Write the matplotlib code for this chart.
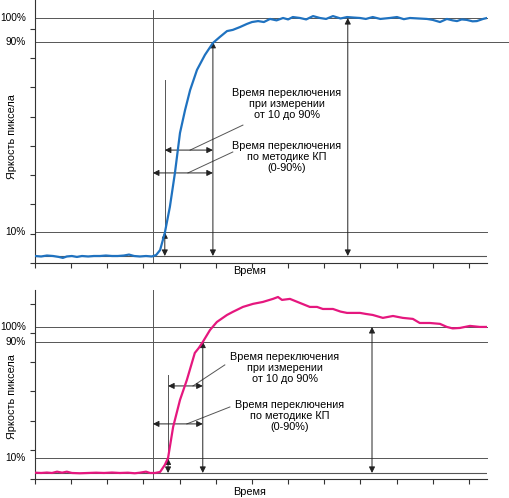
import matplotlib.pyplot as plt
import matplotlib.transforms as mtransforms
from matplotlib.ticker import MultipleLocator, NullFormatter

plt.rcParams['font.family'] = ['Liberation Sans', 'DejaVu Sans']

# time in tick units, brightness in percent (0% = black level, 100% = white level)
t_top = [0.00, 0.17, 0.33, 0.50, 0.66, 0.77, 0.88, 1.02, 1.16, 1.30, 1.47, 1.63, 1.80,
         1.96, 2.13, 2.29, 2.46, 2.60, 2.74, 2.90, 3.07, 3.23, 3.35, 3.46, 3.59, 3.73,
         3.87, 4.01, 4.15, 4.29, 4.48, 4.70, 4.92, 5.11, 5.31, 5.47, 5.67, 5.86, 6.00,
         6.17, 6.33, 6.50, 6.68, 6.86, 7.00, 7.13, 7.33, 7.50, 7.69, 7.88, 8.05, 8.24,
         8.45, 8.63, 8.80, 8.99, 9.15, 9.34, 9.55, 9.81, 10.01, 10.20, 10.37, 10.60,
         10.84, 11.00, 11.20, 11.39, 11.55, 11.67, 11.80, 11.94, 12.10, 12.22, 12.39, 12.50]
b_top = [0.0, -0.2, 0.2, 0.0, -0.4, -0.8, -0.2, 0.0, -0.4, 0.0, -0.2, 0.0, 0.0,
         0.2, 0.0, 0.0, 0.2, 0.6, 0.0, -0.2, 0.0, -0.2, 0.4, 2.5, 9.7, 20.6,
         34.9, 51.7, 61.3, 69.7, 78.2, 84.5, 89.5, 92.0, 94.5, 95.0, 96.2, 97.5, 98.3,
         98.7, 98.3, 99.6, 99.0, 100.0, 99.4, 100.4, 100.0, 99.4, 100.8, 100.0, 99.6, 100.8,
         99.8, 100.4, 100.2, 100.0, 99.6, 100.4, 99.6, 100.0, 100.4, 99.5, 100.0, 99.8,
         99.6, 99.2, 98.3, 99.6, 99.0, 98.7, 99.4, 99.2, 98.6, 98.7, 99.6, 100.0]

t_bot = [0.00, 0.17, 0.33, 0.47, 0.61, 0.75, 0.88, 1.02, 1.24, 1.47, 1.69, 1.91, 2.13,
         2.35, 2.57, 2.76, 2.90, 3.07, 3.18, 3.32, 3.46, 3.59, 3.68, 3.82, 4.01, 4.20,
         4.42, 4.53, 4.64, 4.84, 5.03, 5.31, 5.47, 5.75, 6.03, 6.30, 6.58, 6.72, 6.83,
         7.05, 7.33, 7.60, 7.80, 7.96, 8.24, 8.45, 8.63, 8.99, 9.15, 9.34, 9.62, 9.90,
         10.17, 10.45, 10.64, 10.92, 11.20, 11.39, 11.55, 11.75, 12.03, 12.30, 12.50]
b_bot = [0.2, 0.0, 0.3, 0.0, 0.9, 0.2, 0.9, 0.0, -0.2, 0.0, 0.2, 0.0, 0.3,
         0.0, 0.2, -0.2, 0.2, 0.9, 0.0, 0.0, 0.7, 5.5, 10.3, 31.5, 50.0, 63.7,
         82.2, 85.6, 89.7, 97.9, 103.4, 108.2, 110.3, 113.7, 115.8, 117.1, 119.2, 120.5, 118.5,
         119.2, 116.4, 113.7, 113.7, 112.3, 112.3, 110.5, 109.6, 109.6, 108.9, 108.2, 106.2, 107.5,
         106.2, 105.5, 102.7, 102.7, 102.1, 100.0, 99.0, 99.3, 100.7, 100.0, 100.0]

levels = [100, 90, 10]
level_labels = ['100%', '90%', '10%']
text_1090 = 'Время переключения\nпри измерении\nот 10 до 90%'
text_kp = 'Время переключения\nпо методике КП\n(0-90%)'

GRAY = '#555555'
ARROW = dict(arrowstyle='<|-|>', color='#222222', lw=0.7, mutation_scale=9,
             shrinkA=0, shrinkB=0)

fig = plt.figure(figsize=(5.10, 4.98), dpi=100)


def panel(rect, t, b, color, ylim, ystep, ev):
    ax = fig.add_axes(rect)
    ax.set_xlim(0, 12.5)
    ax.set_ylim(*ylim)
    for s in ['top', 'right']:
        ax.spines[s].set_visible(False)
    for s in ['left', 'bottom']:
        ax.spines[s].set_color('#333333')
        ax.spines[s].set_linewidth(0.8)
    ax.xaxis.set_major_locator(MultipleLocator(1))
    ax.yaxis.set_major_locator(MultipleLocator(ystep, offset=ylim[0]))
    ax.xaxis.set_major_formatter(NullFormatter())
    ax.yaxis.set_major_formatter(NullFormatter())
    ax.tick_params(length=3.5, width=0.8, color='#333333', direction='out')

    # reference levels
    ax.plot([0, 12.5], [0, 0], color=GRAY, lw=0.8)
    for lv in levels:
        x1 = 13.2 if (lv == 90 and ev['long90']) else 12.5
        ax.plot([0, x1], [lv, lv], color=GRAY, lw=0.7, clip_on=False)
    tr = mtransforms.blended_transform_factory(ax.transAxes, ax.transData)
    for lv, lab in zip(levels, level_labels):
        ax.text(-0.02, lv, lab, transform=tr, ha='right', va='center', fontsize=7.3)

    ax.plot(t, b, color=color, lw=1.6, zorder=5)

    # start of switching
    ax.plot([ev['start'], ev['start']], [ylim[0], ev['start_top']], color=GRAY, lw=0.7,
            clip_on=False)
    # 10% marker
    ax.plot([ev['t10'], ev['t10']], [10, ev['t10_top']], color=GRAY, lw=0.7)
    ax.annotate('', xy=(ev['t10'], 10), xytext=(ev['t10'], 0), arrowprops=ARROW)
    # 90% marker
    ax.annotate('', xy=(ev['t90'], 90), xytext=(ev['t90'], 0), arrowprops=ARROW)
    # full level
    ax.annotate('', xy=(ev['tfull'], 100), xytext=(ev['tfull'], 0), arrowprops=ARROW)

    # horizontal time spans
    ax.annotate('', xy=(ev['t10'], ev['y1']), xytext=(ev['t90'], ev['y1']), arrowprops=ARROW)
    ax.annotate('', xy=(ev['start'], ev['y2']), xytext=(ev['t90'], ev['y2']), arrowprops=ARROW)
    ax.plot(ev['lead1'][0], ev['lead1'][1], color=GRAY, lw=0.7)
    ax.plot(ev['lead2'][0], ev['lead2'][1], color=GRAY, lw=0.7)
    ax.text(ev['txt1'][0], ev['txt1'][1], text_1090, ha='center', va='center',
            fontsize=7.8, linespacing=1.1)
    ax.text(ev['txt2'][0], ev['txt2'][1], text_kp, ha='center', va='center',
            fontsize=7.8, linespacing=1.1)
    return ax


ev_top = dict(start=3.26, start_top=103.4, t10=3.59, t10_top=73.9, t90=4.92, tfull=8.65,
              y1=44.5, y2=34.9, lead1=([4.29, 5.75], [44.5, 55.0]),
              lead2=([4.23, 5.47], [34.9, 43.7]), txt1=(6.97, 63.9), txt2=(6.97, 41.6),
              long90=True)
ev_bot = dict(start=3.26, start_top=125.3, t10=3.68, t10_top=67.1, t90=4.64, tfull=9.32,
              y1=59.6, y2=33.6, lead1=([4.37, 5.25], [59.6, 74.0]),
              lead2=([4.20, 5.39], [33.6, 45.2]), txt1=(6.91, 71.9), txt2=(7.05, 39.0),
              long90=False)

ax1 = panel([0.0686, 0.4719, 0.8863, 0.5281], t_top, b_top, '#1f72c0',
            (-2.94, 107.56), 12.31, ev_top)
ax2 = panel([0.0686, 0.0382, 0.8863, 0.3795], t_bot, b_bot, '#e5177e',
            (-4.11, 125.3), 20.0, ev_bot)

fig.text(250 / 510, 1 - 271 / 498, 'Время', ha='center', va='center', fontsize=7.8)
fig.text(250 / 510, 1 - 492 / 498, 'Время', ha='center', va='center', fontsize=7.8)
fig.text(12 / 510, 1 - 137 / 498, 'Яркость пиксела', rotation=90, ha='center',
         va='center', fontsize=7.8)
fig.text(12 / 510, 1 - 397 / 498, 'Яркость пиксела', rotation=90, ha='center',
         va='center', fontsize=7.8)

fig.savefig('out.png', dpi=100)
